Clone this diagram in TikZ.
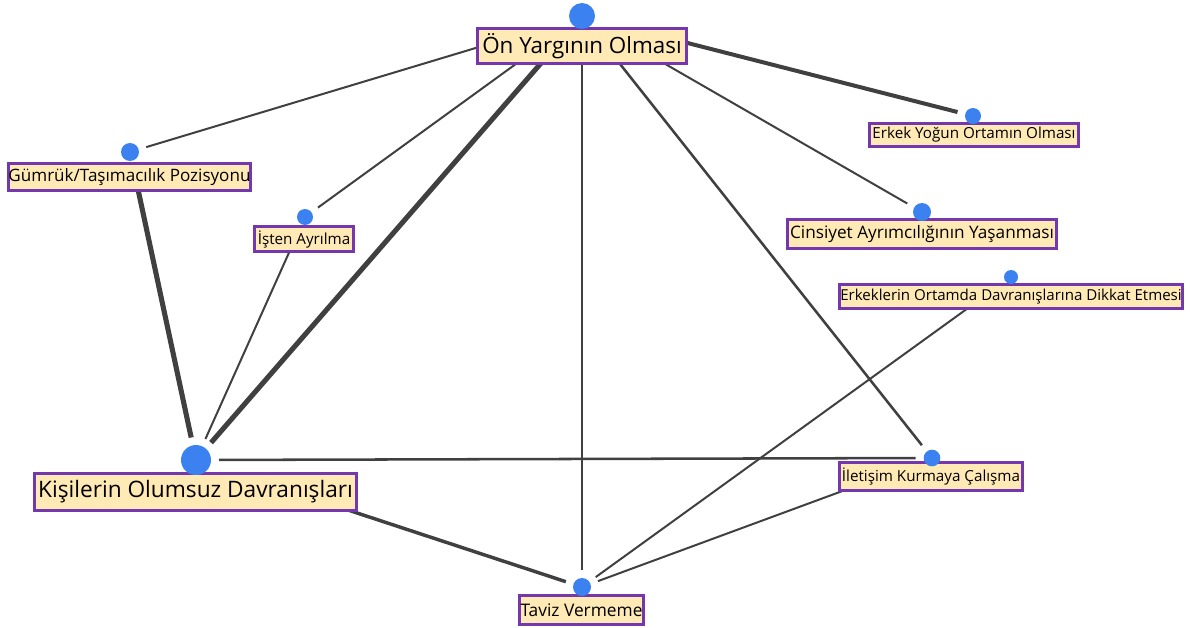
\documentclass[tikz,border=0pt]{standalone}
\usepackage{fontspec}
\setmainfont{Open Sans}
\pgfdeclarelayer{edges}
\pgfdeclarelayer{boxes}
\pgfsetlayers{edges,boxes,main}
\definecolor{boxfill}{HTML}{FFE9B5}
\definecolor{boxline}{HTML}{7437AE}
\definecolor{dotblue}{HTML}{3B82F0}
\definecolor{edgegray}{HTML}{404040}
\tikzset{
  dot/.style={circle, fill=dotblue, inner sep=0pt, outer sep=6pt},
  lbl/.style={draw=boxline, line width=2.25pt, fill=boxfill, inner sep=0pt, align=center, text=black},
  link/.style={draw=edgegray, line width=#1},
}
\begin{document}
\begin{tikzpicture}[x=0.75pt,y=-0.75pt]
\useasboundingbox (0,0) rectangle (1190,628);
% dots
\node[dot,minimum size=19.5pt] (d1) at (582,16) {};
\node[dot,minimum size=13.5pt] (d2) at (130,152) {};
\node[dot,minimum size=12pt] (d3) at (305,217) {};
\node[dot,minimum size=12pt] (d4) at (973,116) {};
\node[dot,minimum size=13.5pt] (d5) at (922,212) {};
\node[dot,minimum size=10.5pt] (d6) at (1011,277) {};
\node[dot,minimum size=22.5pt] (d7) at (196,460) {};
\node[dot,minimum size=12.5pt] (d8) at (932,458) {};
\node[dot,minimum size=13.5pt] (d9) at (582,587) {};
% boxes
\begin{pgfonlayer}{boxes}
\node[lbl,minimum width=157pt,minimum height=26.5pt,font=\fontsize{16.8}{19}\selectfont] (b1) at (582,46) {Ön Yargının Olması};
\node[lbl,minimum width=181.5pt,minimum height=20.5pt,font=\fontsize{12.8}{15}\selectfont] (b2) at (129.5,177) {Gümrük/Taşımacılık Pozisyonu};
\node[lbl,minimum width=74pt,minimum height=19pt,font=\fontsize{11.4}{13}\selectfont] (b3) at (304,239) {İşten Ayrılma};
\node[lbl,minimum width=157pt,minimum height=17.5pt,font=\fontsize{11.4}{13}\selectfont] (b4) at (974,135) {Erkek Yoğun Ortamın Olması};
\node[lbl,minimum width=202pt,minimum height=22pt,font=\fontsize{12.9}{15}\selectfont] (b5) at (922,234) {Cinsiyet Ayrımcılığının Yaşanması};
\node[lbl,minimum width=257pt,minimum height=18pt,font=\fontsize{11.3}{13}\selectfont] (b6) at (1011,296.5) {Erkeklerin Ortamda Davranışlarına Dikkat Etmesi};
\node[lbl,minimum width=241.5pt,minimum height=28pt,font=\fontsize{17}{19}\selectfont] (b7) at (195.5,492) {Kişilerin Olumsuz Davranışları};
\node[lbl,minimum width=137.5pt,minimum height=21pt,font=\fontsize{11.4}{13}\selectfont] (b8) at (931,476.5) {İletişim Kurmaya Çalışma};
\node[lbl,minimum width=93pt,minimum height=22pt,font=\fontsize{13}{15}\selectfont] (b9) at (581.5,610) {Taviz Vermeme};
\end{pgfonlayer}
% edges
\begin{pgfonlayer}{edges}
\begin{scope}
\clip (0,27) rectangle (1190,628);
\draw[link=1.5pt] (d1) -- (d2);
\draw[link=1.5pt] (d1) -- (d3);
\draw[link=3.8pt] (d1) -- (d7);
\draw[link=1.9pt] (d1) -- (d9);
\draw[link=1.9pt] (d1) -- (d8);
\draw[link=1.5pt] (d1) -- (d5);
\draw[link=3pt] (d1) -- (d4);
\end{scope}
\begin{scope}
\clip (0,472) rectangle (1190,628);
\draw[link=2.6pt] (d7) -- (d9);
\end{scope}
\draw[link=3.8pt] (d2) -- (d7);
\draw[link=1.5pt] (d3) -- (d7);
\draw[link=1.9pt] (d7) -- (d8);
\draw[link=1.5pt] (d6) -- (d9);
\draw[link=1.5pt] (d8) -- (d9);
\end{pgfonlayer}
\end{tikzpicture}
\end{document}
